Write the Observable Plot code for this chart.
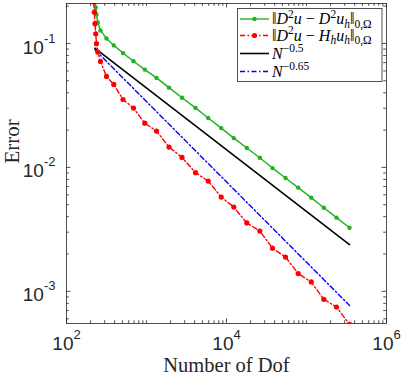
<!DOCTYPE html>
<html><head><meta charset="utf-8">
<script src="https://cdn.jsdelivr.net/npm/d3@7"></script>
<script src="https://cdn.jsdelivr.net/npm/@observablehq/plot@0.6"></script>
<style>
html,body{margin:0;padding:0;background:#fff;}
</style>
</head><body><div id="chart"></div>
<script>
// ---- data ----
const dof = [219, 223, 227, 232, 237, 246, 266, 316, 390, 509, 688, 952, 1334, 1911, 2778, 4098, 5906, 8585, 12340, 17940, 26080, 37580, 54640, 78760, 114500, 164500, 237100, 344700];
const errD2 = [0.388, 0.294, 0.239, 0.195, 0.1715, 0.1475, 0.1273, 0.1096, 0.0964, 0.0836, 0.0719, 0.0615, 0.0527, 0.0440, 0.0365, 0.0302, 0.02506, 0.02075, 0.01722, 0.01432, 0.01197, 0.00987, 0.00820, 0.00686, 0.00570, 0.00473, 0.00393, 0.00326];
const errH = [0.2155, 0.1786, 0.1443, 0.1197, 0.0995, 0.0851, 0.0716, 0.0542, 0.0467, 0.0353, 0.0301, 0.02275, 0.01963, 0.01459, 0.01204, 0.00906, 0.00776, 0.00576, 0.00478, 0.00356, 0.00306, 0.00223, 0.00189, 0.00139, 0.00119, 0.000862, 0.000747, 0.000542];
const refDof = [226, 344700];
const ref05 = [0.0916, 0.00238];
const ref065 = [0.089, 0.00077];
const xTicks = [1e2, 1e4, 1e6];
const yTicks = [1e-3, 1e-2, 1e-1];
const xDomain = [1e2, 1e6];
const yDomain = [0.00055, 0.21];
const seriesNames = ["D2", "H", "r05", "r065"];

// ---- derived ----
const green = dof.map((d, i) => ({x: d, y: errD2[i]}));
const red = dof.map((d, i) => ({x: d, y: errH[i]}));
const black = refDof.map((d, i) => ({x: d, y: ref05[i]}));
const blue = refDof.map((d, i) => ({x: d, y: ref065[i]}));

const xMinor = [];
for (let e = 2; e < 6; e++) for (let k = 1; k <= 9; k++) { const v = k * 10 ** e; if (!xTicks.includes(v)) xMinor.push(v); }
const yMinor = [];
for (let e = -4; e < 0; e++) for (let k = 1; k <= 9; k++) { const v = +(k * 10 ** e).toPrecision(3); if (v >= yDomain[0] && v <= yDomain[1] && !yTicks.includes(v)) yMinor.push(v); }

const ink = "#262626";
const GREEN = "#1fb21f", RED = "#ff0000", BLUE = "#0000ff";
const sans = "'Liberation Sans', Arial, Helvetica, sans-serif";
const serif = "'Liberation Serif', 'Times New Roman', serif";
const dashdot = "5,2.5,1.5,2.5";

const W = 403, H = 379, mL = 66, mR = 17, mT = 3, mB = 56;
const FW = W - mL - mR, FH = H - mT - mB;
// inward ticks: full-frame rules trimmed by insets
const xTick = (data, side, len) => Plot.ruleX(data, {x: d => d, stroke: ink, strokeWidth: 0.8,
  [side === "bottom" ? "insetTop" : "insetBottom"]: FH - len});
const yTick = (data, side, len) => Plot.ruleY(data, {y: d => d, stroke: ink, strokeWidth: 0.8,
  [side === "left" ? "insetRight" : "insetLeft"]: FW - len});

const chart = Plot.plot({
  width: W, height: H,
  marginLeft: mL, marginRight: mR, marginTop: mT, marginBottom: mB,
  x: {type: "log", domain: xDomain, axis: null},
  y: {type: "log", domain: yDomain, axis: null},
  style: {fontFamily: sans, fontSize: "19px", background: "#fff", color: ink},
  marks: [
    yTick(yTicks, "left", 4.5), yTick(yMinor, "left", 2.8),
    yTick(yTicks, "right", 4.5), yTick(yMinor, "right", 2.8),
    xTick(xTicks, "bottom", 4.5), xTick(xMinor, "bottom", 2.8),
    xTick(xTicks, "top", 4.5), xTick(xMinor, "top", 2.8),
    // tick labels
    Plot.text(xTicks, {x: d => d, frameAnchor: "bottom", dy: 26, text: d => String(Math.round(Math.log10(d))), fill: ink, fontSize: 19, ariaDescription: "xlab"}),
    Plot.text(yTicks, {y: d => d, frameAnchor: "left", dx: -11, dy: 4, textAnchor: "end", text: d => String(Math.round(Math.log10(d))), fill: ink, fontSize: 19, ariaDescription: "ylab"}),
    // axis titles
    Plot.text(["Number of Dof"], {frameAnchor: "bottom", dy: 48, text: d => d, fontFamily: serif, fontSize: 20.5, fill: ink}),
    Plot.text(["Error"], {frameAnchor: "left", dx: -54, rotate: -90, text: d => d, fontFamily: serif, fontSize: 21, fill: ink}),
    // series
    Plot.line(black, {x: "x", y: "y", stroke: "#000", strokeWidth: 1.6, clip: true}),
    Plot.line(blue, {x: "x", y: "y", stroke: BLUE, strokeWidth: 1.4, strokeDasharray: dashdot, clip: true}),
    Plot.line(green, {x: "x", y: "y", stroke: GREEN, strokeWidth: 1.4, clip: true}),
    Plot.dot(green, {x: "x", y: "y", r: 2.2, fill: GREEN, clip: true}),
    Plot.line(red, {x: "x", y: "y", stroke: RED, strokeWidth: 1.4, strokeDasharray: dashdot, clip: true}),
    Plot.dot(red, {x: "x", y: "y", r: 2.6, fill: RED, clip: true}),
    Plot.frame({stroke: ink, strokeWidth: 0.8})
  ]
});

const svg = d3.select(chart);
// superscript tick labels 10^k
function supify(sel) {
  sel.each(function() {
    const t = d3.select(this);
    const e = t.text();
    t.text(null);
    t.append("tspan").text("10");
    t.append("tspan").attr("dy", -11).attr("font-size", 13).text(e);
  });
}
supify(svg.selectAll('g[aria-description="xlab"] text'));
supify(svg.selectAll('g[aria-description="ylab"] text'));

// legend
const lg = svg.append("g").attr("class", "legend").attr("text-anchor", "start");
lg.append("rect").attr("x", 237.5).attr("y", 8.5).attr("width", 144.5).attr("height", 73)
  .attr("fill", "#fff").attr("stroke", ink).attr("stroke-width", 0.8);

function rich(x, y, parts) {
  const t = lg.append("text").attr("x", x).attr("y", y).attr("text-anchor", "start")
    .attr("font-family", serif).attr("font-size", 16).attr("fill", "#000");
  let shift = 0;
  for (const [s, kind] of parts) {
    const target = kind.startsWith("sup") ? -6.5 : kind.startsWith("sub") ? 3.5 : 0;
    const sp = t.append("tspan").text(s);
    if (target !== shift) sp.attr("dy", target - shift);
    shift = target;
    if (kind.startsWith("sup") || kind.startsWith("sub")) sp.attr("font-size", 11.5);
    if (kind.endsWith("i")) sp.attr("font-style", "italic");
  }
}
const legendRows = [
  {name: seriesNames[0], y: 19, color: GREEN, dash: null, marker: 2.2, w: 1.4,
   parts: [["‖","n"],["D","i"],["2","sup"],["u","i"],[" − ","n"],["D","i"],["2","sup"],["u","i"],["h","subi"],["‖","n"],["0,Ω","sub"]]},
  {name: seriesNames[1], y: 35.5, color: RED, dash: dashdot, marker: 2.6, w: 1.4,
   parts: [["‖","n"],["D","i"],["2","sup"],["u","i"],[" − ","n"],["H","i"],["h","subi"],["u","i"],["h","subi"],["‖","n"],["0,Ω","sub"]]},
  {name: seriesNames[2], y: 53.5, color: "#000", dash: null, marker: 0, w: 1.6,
   parts: [["N","i"],["−0.5","sup"]]},
  {name: seriesNames[3], y: 71.5, color: BLUE, dash: dashdot, marker: 0, w: 1.4,
   parts: [["N","i"],["−0.65","sup"]]}
];
for (const r of legendRows) {
  const l = lg.append("line").attr("x1", 240).attr("x2", 269).attr("y1", r.y).attr("y2", r.y)
    .attr("stroke", r.color).attr("stroke-width", r.w);
  if (r.dash) l.attr("stroke-dasharray", r.dash);
  if (r.marker) lg.append("circle").attr("cx", 254.5).attr("cy", r.y).attr("r", r.marker).attr("fill", r.color);
  rich(272, r.y + 5, r.parts);
}

document.getElementById("chart").appendChild(chart);
</script>
</body></html>
